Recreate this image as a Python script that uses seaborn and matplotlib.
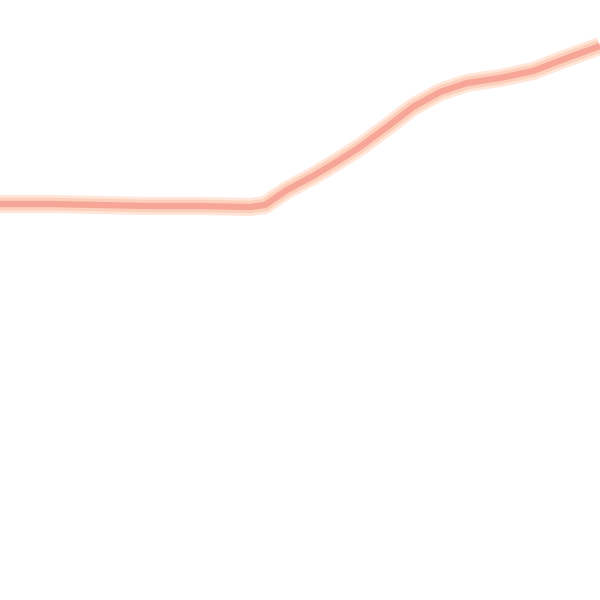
import matplotlib
matplotlib.use("Agg")
import matplotlib.pyplot as plt
import seaborn as sns
import pandas as pd

# 曲线数据
x_vals = [0, 50, 100, 150, 200, 250, 265, 287, 313, 335, 360, 387, 413, 440, 467, 500, 533, 567, 600]
y_vals = [396, 396, 395, 394, 394, 393, 395, 410, 424, 437, 453, 473, 493, 508, 517, 522, 529, 542, 554]

df = pd.DataFrame({"x": x_vals, "y": y_vals})

sns.set_theme(style="white")

fig = plt.figure(figsize=(6, 6), dpi=100)
ax = fig.add_axes([0, 0, 1, 1])

# 外层浅色光晕
sns.lineplot(data=df, x="x", y="y", ax=ax, color="#FFE6D8", linewidth=13,
             solid_capstyle="butt")
sns.lineplot(data=df, x="x", y="y", ax=ax, color="#FDD0BC", linewidth=9,
             solid_capstyle="butt")
# 内层主线
sns.lineplot(data=df, x="x", y="y", ax=ax, color="#F6A596", linewidth=4.5,
             solid_capstyle="butt")

ax.set_xlim(0, 600)
ax.set_ylim(0, 600)
ax.axis("off")

fig.savefig("out.png", dpi=100)
